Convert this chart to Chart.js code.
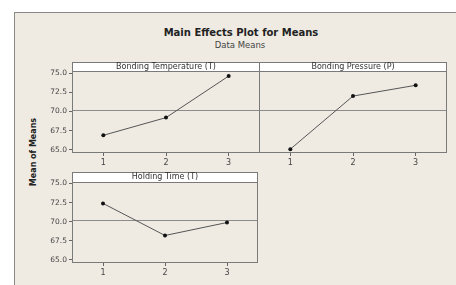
<!DOCTYPE html>
<html>
<head>
<meta charset="utf-8">
<script src="https://cdn.jsdelivr.net/npm/chart.js@4.4.1/dist/chart.umd.min.js"></script>
<style>
  html, body { margin: 0; padding: 0; background: #fff; }
  #wrap { position: relative; width: 456px; height: 285px; overflow: hidden; }
  #frame { position: absolute; left: 14px; top: 12px; right: 0; bottom: 0;
           background: #efebe3; border-left: 1px solid #8a8884; border-top: 1px solid #8a8884; }
  canvas { position: absolute; }
  .txt { position: absolute; font-family: 'DejaVu Sans', sans-serif; color: #222; white-space: nowrap; }
</style>
</head>
<body>
<div id="wrap">
  <div id="frame"></div>
  <div class="txt" id="title" style="left:0;width:482px;top:27px;text-align:center;font-weight:bold;font-size:10px;">Main Effects Plot for Means</div>
  <div class="txt" id="sub" style="left:0;width:480px;top:40px;text-align:center;font-size:8.5px;color:#444;">Data Means</div>
  <div class="txt" id="ytitle" style="left:33px;top:152px;font-weight:bold;font-size:8px;transform:translate(-50%,-50%) rotate(-90deg);">Mean of Means</div>
  <canvas id="p1" width="221" height="110" style="left:40px;top:60px;"></canvas>
  <canvas id="p2" width="192" height="110" style="left:259px;top:60px;"></canvas>
  <canvas id="p3" width="221" height="110" style="left:40px;top:170px;"></canvas>
</div>
<script>
// values
const levels = ['1', '2', '3'];
const tempMeans = [66.9, 69.2, 74.6];
const pressMeans = [65.1, 72.0, 73.4];
const holdMeans = [72.4, 68.2, 69.9];
const yTicks = [65.0, 67.5, 70.0, 72.5, 75.0];
const grandMean = 70.17;
const panelNames = ['Bonding Temperature (T)', 'Bonding Pressure (P)', 'Holding Time (T)'];

// strip header, box and reference line
const panelDeco = {
  id: 'panelDeco',
  beforeDatasetsDraw(chart, args, opts) {
    const a = chart.chartArea, ctx = chart.ctx;
    const y = chart.scales.y.getPixelForValue(grandMean);
    ctx.save();
    ctx.strokeStyle = '#8c8c8c';
    ctx.lineWidth = 1;
    ctx.beginPath();
    ctx.moveTo(a.left, Math.round(y) + 0.5);
    ctx.lineTo(a.right, Math.round(y) + 0.5);
    ctx.stroke();
    ctx.restore();
  },
  afterDraw(chart, args, opts) {
    const a = chart.chartArea, ctx = chart.ctx;
    ctx.save();
    ctx.fillStyle = '#ffffff';
    ctx.fillRect(a.left, a.top - opts.strip, a.right - a.left, opts.strip);
    ctx.strokeStyle = '#7a7a7a';
    ctx.lineWidth = 1;
    ctx.strokeRect(a.left + 0.5, a.top - opts.strip + 0.5, a.right - a.left - 1, a.bottom - a.top + opts.strip - 1);
    ctx.beginPath();
    ctx.moveTo(a.left, a.top + 0.5);
    ctx.lineTo(a.right, a.top + 0.5);
    ctx.stroke();
    ctx.fillStyle = '#333';
    ctx.font = '8px "DejaVu Sans"';
    ctx.textAlign = 'center';
    ctx.textBaseline = 'middle';
    ctx.fillText(opts.name, (a.left + a.right) / 2, a.top - opts.strip / 2);
    ctx.restore();
  }
};

function makePanel(id, values, name, showY, pad, strip, yMin, yMax) {
  return new Chart(document.getElementById(id), {
    type: 'line',
    data: {
      labels: levels,
      datasets: [{
        data: values,
        borderColor: '#555',
        borderWidth: 1,
        pointRadius: 2,
        pointBackgroundColor: '#111',
        pointBorderColor: '#111',
        pointBorderWidth: 0
      }]
    },
    plugins: [panelDeco],
    options: {
      responsive: false,
      animation: false,
      events: [],
      layout: { padding: pad, autoPadding: false },
      plugins: {
        legend: { display: false },
        tooltip: { enabled: false },
        panelDeco: { name: name, strip: strip }
      },
      scales: {
        x: {
          offset: true,
          grid: { drawOnChartArea: false, tickLength: 3, color: '#666' },
          border: { display: false },
          ticks: { color: '#444', font: { size: 8, family: 'DejaVu Sans' }, padding: 2, maxRotation: 0 },
          afterFit(s) { s.height = 17; }
        },
        y: {
          display: showY,
          min: yMin,
          max: yMax,
          grid: { drawOnChartArea: false, tickLength: 3, color: '#666' },
          border: { display: false },
          afterBuildTicks(s) { s.ticks = yTicks.map(v => ({ value: v })); },
          ticks: {
            color: '#444', font: { size: 7.5, family: 'DejaVu Sans' }, padding: 2,
            callback: v => Number(v).toFixed(1)
          },
          afterFit(s) { s.width = showY ? 32 : 0; }
        }
      }
    }
  });
}

makePanel('p1', tempMeans, panelNames[0], true, { top: 11, right: 1, left: 0, bottom: 0 }, 9, 64.6, 75.26);
makePanel('p2', pressMeans, panelNames[1], false, { top: 11, right: 4, left: 0, bottom: 0 }, 9, 64.6, 75.26);
makePanel('p3', holdMeans, panelNames[2], true, { top: 12, right: 3, left: 0, bottom: 0 }, 10, 64.6, 75.2);
</script>
</body>
</html>
